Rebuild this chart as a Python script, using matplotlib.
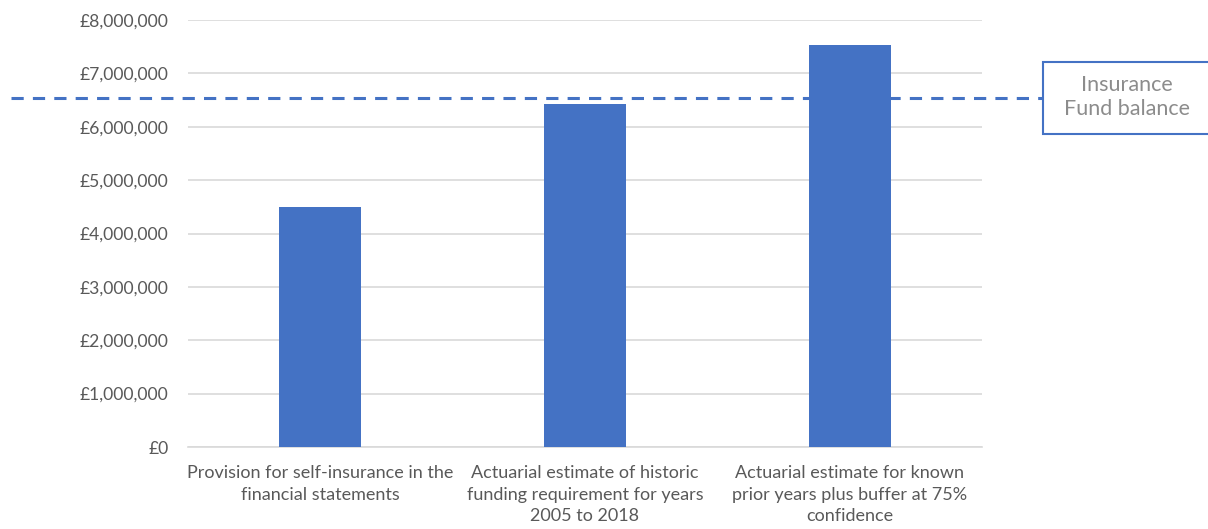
import matplotlib.pyplot as plt
from matplotlib.patches import Rectangle
from matplotlib.ticker import FuncFormatter
import matplotlib.transforms as mtransforms

plt.rcParams['font.family'] = ['Lato', 'DejaVu Sans']

# Data
categories = [
    'Provision for self-insurance in the\nfinancial statements',
    'Actuarial estimate of historic\nfunding requirement for years\n2005 to 2018',
    'Actuarial estimate for known\nprior years plus buffer at 75%\nconfidence',
]
values = [4500000, 6420000, 7530000]
fund_balance = 6540000
fund_label = 'Insurance\nFund balance'

bar_color = '#4472C4'
text_color = '#595959'
grid_color = '#D9D9D9'

fig = plt.figure(figsize=(12.08, 5.29), dpi=100)
ax = fig.add_axes([188/1208, 82/529, 794/1208, 427/529])

x = range(len(categories))
ax.bar(x, values, width=0.31, color=bar_color, zorder=3)
ax.set_xlim(-0.5, len(categories) - 0.5)
ax.set_ylim(0, 8000000)
ax.set_yticks(range(0, 8000001, 1000000))
ax.yaxis.set_major_formatter(FuncFormatter(lambda v, p: f'£{int(v):,}'))
ax.yaxis.grid(True, color=grid_color, linewidth=1.2, zorder=0)
ax.set_xticks(list(x))
ax.set_xticklabels(categories, fontsize=13, color=text_color, linespacing=1.42)
ax.tick_params(axis='y', length=0, pad=14, labelsize=12.6, labelcolor=text_color)
ax.tick_params(axis='x', length=0, pad=13)
for s in ['top', 'right', 'left']:
    ax.spines[s].set_visible(False)
ax.spines['bottom'].set_color(grid_color)
ax.spines['bottom'].set_linewidth(1.2)

# Insurance fund balance line, running past the axes to the label box
trans = mtransforms.blended_transform_factory(ax.transAxes, ax.transData)
ax.plot([(11 - 188) / 794, (1043 - 188) / 794], [fund_balance, fund_balance],
        transform=trans, clip_on=False, color=bar_color, linestyle=(0, (4, 3)),
        linewidth=2.2, zorder=4)

# Label box
box = Rectangle((1043/1208, (529 - 134)/529), 170/1208, 72/529,
                transform=fig.transFigure, facecolor='white',
                edgecolor=bar_color, linewidth=1.5)
fig.patches.append(box)
fig.text(1127/1208, (529 - 97)/529, fund_label, ha='center', va='center',
         fontsize=15.5, color='#8C8C8C', linespacing=1.25)

fig.savefig('out.png', dpi=100)
